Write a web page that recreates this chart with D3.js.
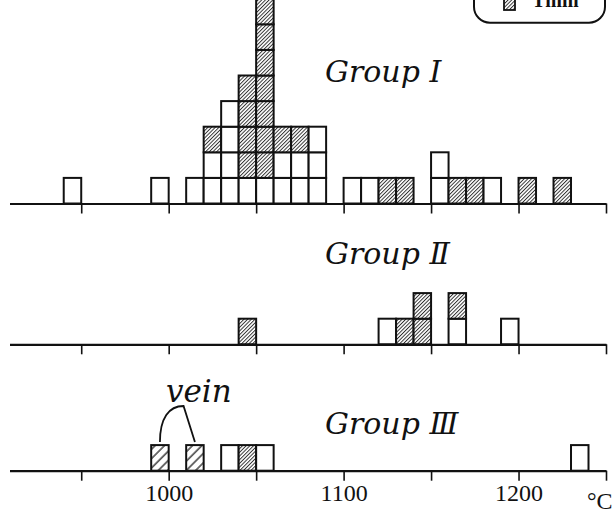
<!DOCTYPE html>
<html>
<head>
<meta charset="utf-8">
<script src="https://cdn.jsdelivr.net/npm/d3@7"></script>
<style>
  html, body { margin: 0; padding: 0; background: #fff; }
  svg { display: block; }
</style>
</head>
<body>
<svg id="chart" width="612" height="517"></svg>
<script>
// Temperature bins (lower edge, °C; each bin is 10 °C wide)
const groupIBins    = [940, 990, 1010, 1020, 1030, 1040, 1050, 1060, 1070, 1080, 1100, 1110, 1120, 1130, 1150, 1160, 1170, 1180, 1200, 1220];
const groupIOpen    = [1,   1,   1,    2,    4,    1,    1,    2,    2,    3,    1,    1,    0,    0,    2,    0,    0,    1,    0,    0];
const groupITmm     = [0,   0,   0,    1,    0,    4,    7,    1,    1,    0,    0,    0,    1,    1,    0,    1,    1,    0,    1,    1];

const groupIIBins   = [1040, 1120, 1130, 1140, 1160, 1190];
const groupIIOpen   = [0,    1,    0,    0,    1,    1];
const groupIITmm    = [1,    0,    1,    2,    1,    0];

const groupIIIBins  = [990, 1010, 1030, 1040, 1050, 1230];
const groupIIIOpen  = [0,   0,    1,    0,    1,    1];
const groupIIITmm   = [0,   0,    0,    1,    0,    0];
const groupIIIVein  = [1,   1,    0,    0,    0,    0];

const tickValues = [950, 1000, 1050, 1100, 1150, 1200, 1250];
const tickLabels = [1000, 1100, 1200];
const binWidth = 10;

const SERIF = "'Liberation Serif', 'Times New Roman', Times, serif";
const SERIF_ITALIC = "'DejaVu Serif', serif";

const svg = d3.select("#chart");
const defs = svg.append("defs");

// Dense diagonal hatching for Tmm samples
const dense = defs.append("pattern")
  .attr("id", "hatchDense")
  .attr("patternUnits", "userSpaceOnUse")
  .attr("width", 2.6).attr("height", 10)
  .attr("patternTransform", "rotate(45)");
dense.append("rect").attr("width", 2.6).attr("height", 10).attr("fill", "#fff");
dense.append("line").attr("x1", 0.5).attr("y1", 0).attr("x2", 0.5).attr("y2", 10)
  .attr("stroke", "#222").attr("stroke-width", 0.9);

// Sparse diagonal hatching for vein samples
const sparse = defs.append("pattern")
  .attr("id", "hatchSparse")
  .attr("patternUnits", "userSpaceOnUse")
  .attr("width", 6.6).attr("height", 10)
  .attr("patternTransform", "translate(2,0) rotate(45)");
sparse.append("rect").attr("width", 6.6).attr("height", 10).attr("fill", "#fff");
sparse.append("line").attr("x1", 1).attr("y1", 0).attr("x2", 1).attr("y2", 10)
  .attr("stroke", "#222").attr("stroke-width", 1.3);

const x = d3.scaleLinear().domain([909, 1250]).range([9.5, 606]);
const boxH = 25.6;

const panels = [
  { label: "Group I",  baseline: 203.5, bins: groupIBins,   open: groupIOpen,   tmm: groupITmm,   vein: null,         labelY: 82,  showLabels: false },
  { label: "Group Ⅱ",  baseline: 344.3, bins: groupIIBins,  open: groupIIOpen,  tmm: groupIITmm,  vein: null,         labelY: 264, showLabels: false },
  { label: "Group Ⅲ",  baseline: 470.7, bins: groupIIIBins, open: groupIIIOpen, tmm: groupIIITmm, vein: groupIIIVein, labelY: 434, showLabels: true }
];

panels.forEach(p => {
  const y = d3.scaleLinear().domain([0, 1]).range([p.baseline, p.baseline - boxH]);
  // Expand each bin into one box per sample: open at the bottom, hatched above
  const boxes = [];
  p.bins.forEach((b, i) => {
    let level = 0;
    for (let k = 0; k < p.open[i]; k++) boxes.push({ bin: b, level: level++, kind: "open" });
    if (p.vein) for (let k = 0; k < p.vein[i]; k++) boxes.push({ bin: b, level: level++, kind: "vein" });
    for (let k = 0; k < p.tmm[i]; k++) boxes.push({ bin: b, level: level++, kind: "tmm" });
  });

  const g = svg.append("g");
  g.selectAll("rect.box").data(boxes).join("rect")
    .attr("class", "box")
    .attr("x", d => x(d.bin))
    .attr("width", d => x(d.bin + binWidth) - x(d.bin))
    .attr("y", d => y(d.level + 1))
    .attr("height", d => y(d.level) - y(d.level + 1))
    .attr("fill", d => d.kind === "open" ? "#fff" : d.kind === "tmm" ? "url(#hatchDense)" : "url(#hatchSparse)")
    .attr("stroke", "#111")
    .attr("stroke-width", 2);

  const axis = d3.axisBottom(x)
    .tickValues(tickValues)
    .tickSize(10)
    .tickSizeOuter(0)
    .tickPadding(3)
    .tickFormat(v => p.showLabels && tickLabels.includes(v) ? String(v) : "");

  const ag = svg.append("g")
    .attr("transform", `translate(0,${p.baseline})`)
    .call(axis)
    .attr("font-family", null)
    .attr("font-size", null);
  ag.select(".domain").attr("stroke", "#111").attr("stroke-width", 2.2);
  ag.selectAll(".tick line").attr("stroke", "#111").attr("stroke-width", 1.6);
  ag.selectAll(".tick text")
    .attr("fill", "#111")
    .style("font-family", SERIF)
    .style("font-size", "24px");

  svg.append("text")
    .attr("x", 325).attr("y", p.labelY)
    .style("font-family", SERIF_ITALIC)
    .style("font-style", "italic")
    .style("font-size", "30px")
    .attr("fill", "#111")
    .text(p.label);
});

// Unit label
svg.append("text")
  .attr("x", 587).attr("y", 509)
  .style("font-family", SERIF)
  .style("font-size", "24px")
  .attr("fill", "#111")
  .text("°C");

// Vein bracket in Group III: arc rising from the first vein box, straight leg to the second
const pIII = panels[2];
const bracketFoot = pIII.baseline - boxH - 3;
const peakY = 406;
const vx1 = x(995), vx2 = x(1015), vpk = x(1008.5);
svg.append("path")
  .attr("d", `M${vx1},${bracketFoot} C${vx1},${peakY + 12} ${vx1 + 9},${peakY} ${vpk},${peakY} L${vx2},${bracketFoot}`)
  .attr("fill", "none").attr("stroke", "#111").attr("stroke-width", 1.8)
  .attr("stroke-linejoin", "miter");
svg.append("text")
  .attr("x", 166).attr("y", 402)
  .style("font-family", SERIF_ITALIC)
  .style("font-style", "italic")
  .style("font-size", "31px")
  .attr("fill", "#111")
  .text("vein");

// Legend box (upper part runs off the top edge)
const lg = svg.append("g");
lg.append("rect")
  .attr("x", 474).attr("y", -50).attr("width", 131).attr("height", 72.7)
  .attr("rx", 16).attr("ry", 16)
  .attr("fill", "#fff").attr("stroke", "#111").attr("stroke-width", 2);
lg.append("rect")
  .attr("x", 504).attr("y", -2).attr("width", 11).attr("height", 12)
  .attr("fill", "url(#hatchDense)").attr("stroke", "#111").attr("stroke-width", 1.8);
lg.append("text")
  .attr("x", 532).attr("y", 7)
  .style("font-family", SERIF)
  .style("font-weight", "bold")
  .style("font-size", "20px")
  .attr("fill", "#111")
  .text("Tmm");
</script>
</body>
</html>
